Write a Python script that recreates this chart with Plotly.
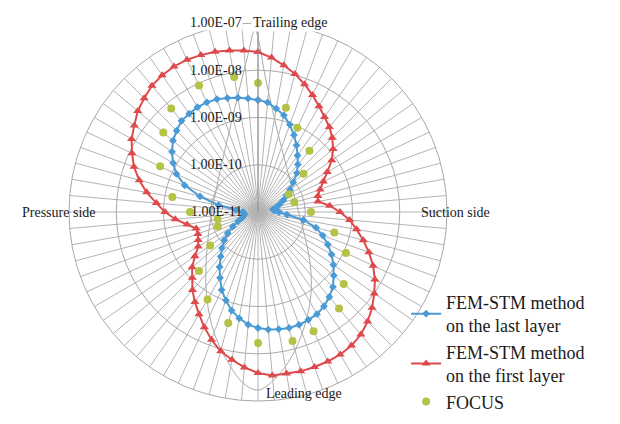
import math
import plotly.graph_objects as go

# Angular positions of the probes, clockwise from the trailing edge (degrees)
angles = list(range(0, 360, 5))

# FEM-STM results on the last layer
last_layer = [
    2.34e-9, 2.13e-9, 1.67e-9, 1.31e-9, 9.29e-10, 6.29e-10, 4.27e-10, 2.88e-10,
    2.05e-10, 1.46e-10, 9.42e-11, 6.68e-11, 4.99e-11, 3.91e-11, 3.07e-11, 2.52e-11,
    2.07e-11, 2.29e-11, 2.78e-11, 4.11e-11, 9.42e-11, 1.86e-10, 2.88e-10, 4.27e-10,
    6.29e-10, 8.85e-10, 1.24e-9, 1.75e-9, 2.23e-9, 2.72e-9, 3.14e-9, 3.30e-9,
    3.47e-9, 3.47e-9, 3.30e-9, 3.14e-9, 2.85e-9, 2.47e-9, 1.93e-9, 1.44e-9,
    9.75e-10, 6.61e-10, 4.06e-10, 2.62e-10, 1.69e-10, 1.20e-10, 8.53e-11, 6.07e-11,
    4.11e-11, 2.93e-11, 2.29e-11, 2.07e-11, 1.98e-11, 1.98e-11, 2.10e-11, 2.93e-11,
    7.03e-11, 1.86e-10, 4.48e-10, 8.04e-10, 1.19e-9, 1.67e-9, 2.23e-9, 2.72e-9,
    3.30e-9, 3.47e-9, 3.64e-9, 3.64e-9, 3.47e-9, 3.14e-9, 2.85e-9, 2.59e-9,
]

# FEM-STM results on the first layer
first_layer = [
    2.43e-8, 1.91e-8, 1.42e-8, 1.06e-8, 7.55e-9, 5.37e-9, 3.82e-9, 2.85e-9,
    2.23e-9, 1.67e-9, 1.19e-9, 8.04e-10, 4.93e-10, 3.34e-10, 2.50e-10, 2.05e-10,
    1.95e-10, 3.34e-10, 5.43e-10, 8.85e-10, 1.31e-9, 2.03e-9, 3.14e-9, 4.88e-9,
    7.20e-9, 1.01e-8, 1.42e-8, 1.91e-8, 2.43e-8, 2.82e-8, 3.03e-8, 3.10e-8,
    3.10e-8, 3.10e-8, 2.96e-8, 2.96e-8, 2.55e-8, 2.00e-8, 1.50e-8, 1.12e-8,
    7.55e-9, 4.88e-9, 3.14e-9, 2.13e-9, 1.44e-9, 9.29e-10, 6.61e-10, 4.27e-10,
    2.88e-10, 2.50e-10, 2.26e-10, 2.26e-10, 3.34e-10, 5.71e-10, 9.29e-10, 1.44e-9,
    2.47e-9, 4.00e-9, 6.22e-9, 8.75e-9, 1.23e-8, 1.57e-8, 2.10e-8, 2.55e-8,
    3.10e-8, 3.42e-8, 3.60e-8, 3.60e-8, 3.42e-8, 3.26e-8, 2.96e-8, 2.69e-8,
]

# FOCUS reference results (available at fewer probes)
focus_angles = [0, 15, 25, 40, 50, 60, 75, 90, 105, 115, 130, 140, 155, 165,
                180, 195, 210, 225, 235, 250, 260, 270, 280, 295, 310, 320, 335, 350]
focus_values = [5.37e-9, 1.93e-9, 9.29e-10, 4.93e-10, 1.81e-10, 5.61e-11, 6.25e-11,
                1.32e-10, 4.70e-10, 1.13e-9, 2.34e-9, 4.65e-9, 6.07e-9, 6.68e-9,
                5.92e-9, 2.72e-9, 1.37e-9, 5.85e-10, 1.72e-10, 8.02e-11, 7.38e-11,
                2.75e-10, 6.93e-10, 1.93e-9, 4.13e-9, 7.20e-9, 9.00e-9, 7.93e-9]

radial_ticks = [1e-11, 1e-10, 1e-9, 1e-8, 1e-7]
radial_labels = ["1.00E-11", "1.00E-10", "1.00E-09", "1.00E-08", "1.00E-07"]

series_names = ["FEM-STM method<br>on the last layer",
                "FEM-STM method<br>on the first layer",
                "FOCUS"]

# Blade section outline, in units of the plot radius (centre at 0, 0)
blade_x = [-0.016, 0.042, 0.101, 0.169, 0.233, 0.275, 0.280, 0.243, 0.180, 0.095,
           0.0, -0.079, -0.159, -0.228, -0.270, -0.275, -0.259, -0.222, -0.169,
           -0.106, -0.053, -0.016]
blade_y = [0.963, 0.698, 0.434, 0.169, -0.069, -0.265, -0.439, -0.614, -0.762,
           -0.878, -0.942, -0.905, -0.794, -0.651, -0.466, -0.280, -0.095, 0.116,
           0.354, 0.619, 0.831, 0.963]

# Side labels: text, paper x, paper y, x anchor
side_labels = [
    ("Trailing edge", 0.468, 0.946, "center"),
    ("Suction side", 0.676, 0.500, "left"),
    ("Leading edge", 0.426, 0.073, "left"),
    ("Pressure side", 0.032, 0.498, "left"),
]

BLUE = "#4A9BD5"
RED = "#DE4A4C"
GREEN = "#B4C245"
SERIF = "Liberation Serif"
TEXT = "#1A1A1A"

dom_x = [69 / 620, 447 / 620]
dom_y = [23 / 424, 401 / 424]
r_min, r_max = math.log10(radial_ticks[0]), math.log10(radial_ticks[-1])


def closed(theta, values):
    return list(theta) + [theta[0] + 360], list(values) + [values[0]]


fig = go.Figure()

# Blade outline drawn on a hidden cartesian frame sharing the polar area
fig.add_trace(go.Scatter(
    x=blade_x, y=blade_y, mode="lines", line=dict(color="#A8A8A8", width=1, shape="spline"),
    showlegend=False, hoverinfo="skip", xaxis="x", yaxis="y",
))

t, v = closed(angles, last_layer)
fig.add_trace(go.Scatterpolar(
    theta=t, r=v, name=series_names[0], mode="lines+markers",
    line=dict(color=BLUE, width=2),
    marker=dict(symbol="diamond", size=6, color=BLUE),
))

t, v = closed(angles, first_layer)
fig.add_trace(go.Scatterpolar(
    theta=t, r=v, name=series_names[1], mode="lines+markers",
    line=dict(color=RED, width=2),
    marker=dict(symbol="triangle-up", size=8, color=RED),
))

fig.add_trace(go.Scatterpolar(
    theta=focus_angles, r=focus_values, name=series_names[2], mode="markers",
    marker=dict(symbol="circle", size=8, color=GREEN),
))

# Radial (value) axis labels, set beside the vertical axis line
for val, lab in zip(radial_ticks, radial_labels):
    fig.add_annotation(
        text=lab, xref="x", yref="y", x=-0.082,
        y=(math.log10(val) - r_min) / (r_max - r_min),
        xanchor="right", yanchor="middle", showarrow=False,
        font=dict(family=SERIF, size=14, color=TEXT),
        bgcolor="white" if val == radial_ticks[-1] else None,
        borderpad=0,
    )

for text, x, y, anchor in side_labels:
    fig.add_annotation(
        text=text, x=x, y=y, xref="paper", yref="paper", xanchor=anchor, yanchor="middle",
        showarrow=False, font=dict(family=SERIF, size=14, color=TEXT),
        bgcolor="white" if text == "Trailing edge" else None,
    )

fig.update_layout(
    width=620, height=424,
    margin=dict(l=0, r=0, t=0, b=0),
    paper_bgcolor="white",
    plot_bgcolor="rgba(0,0,0,0)",
    xaxis=dict(domain=dom_x, range=[-1, 1], visible=False, fixedrange=True),
    yaxis=dict(domain=dom_y, range=[-1, 1], visible=False, fixedrange=True),
    polar=dict(
        domain=dict(x=dom_x, y=dom_y),
        bgcolor="rgba(0,0,0,0)",
        angularaxis=dict(
            rotation=90, direction="clockwise", thetaunit="degrees",
            tickmode="linear", tick0=0, dtick=5,
            showticklabels=False, ticks="",
            gridcolor="#B3B3B3", gridwidth=1,
            showline=True, linecolor="#A9A9A9", linewidth=1,
        ),
        radialaxis=dict(
            type="log", range=[r_min, r_max],
            tickvals=radial_ticks, showticklabels=False,
            angle=90, ticks="", showline=True, linecolor="#8E8E8E", linewidth=1,
            gridcolor="#A9A9A9", gridwidth=1,
        ),
    ),
    legend=dict(
        x=0.655, y=0.01, xanchor="left", yanchor="bottom",
        font=dict(family=SERIF, size=18, color=TEXT),
        bgcolor="rgba(0,0,0,0)", tracegroupgap=0, itemwidth=30,
    ),
)

fig.write_html("out.html")
